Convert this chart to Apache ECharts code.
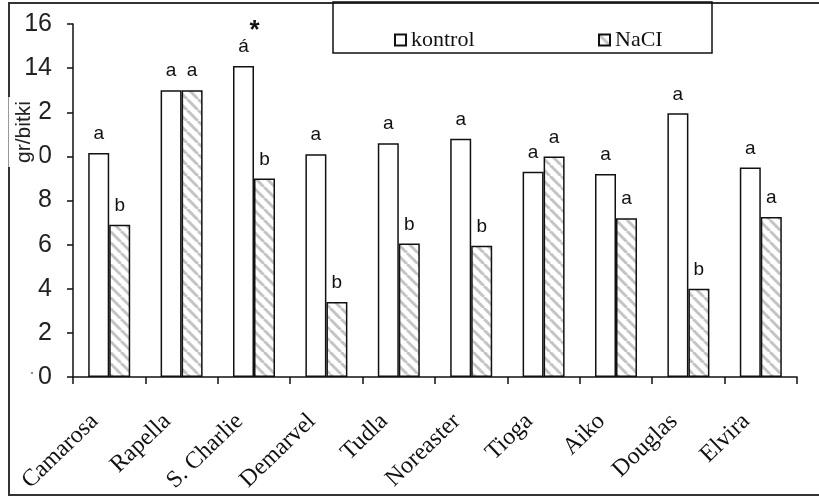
<!DOCTYPE html>
<html>
<head>
<meta charset="utf-8">
<script src="https://cdn.jsdelivr.net/npm/echarts@6/dist/echarts.min.js"></script>
<style>
  html, body { margin: 0; padding: 0; background: #fff; }
  #chart { width: 819px; height: 498px; }
</style>
</head>
<body>
<div id="chart"></div>
<script>
// Cultivars and fresh weight per plant (gr/bitki)
var categories = ['Camarosa', 'Rapella', 'S. Charlie', 'Demarvel', 'Tudla',
                  'Noreaster', 'Tioga', 'Aiko', 'Douglas', 'Elvira'];
var kontrolValues = [10.15, 13.0, 14.1, 10.1, 10.6, 10.8, 9.3, 9.2, 11.95, 9.5];
var naclValues = [6.9, 13.0, 9.0, 3.4, 6.05, 5.95, 10.0, 7.2, 4.0, 7.25];
// Significance letters shown above each bar
var kontrolLetters = ['a', 'a', 'á*', 'a', 'a', 'a', 'a', 'a', 'a', 'a'];
var naclLetters = ['b', 'a', 'b', 'b', 'b', 'b', 'a', 'a', 'b', 'a'];
var yTicks = [0, 2, 4, 6, 8, 10, 12, 14, 16];

// Diagonal hatch fill for the NaCl bars
function hatchPattern() {
  var s = 11;
  var c = document.createElement('canvas');
  c.width = s; c.height = s;
  var g = c.getContext('2d');
  g.fillStyle = '#ffffff';
  g.fillRect(0, 0, s, s);
  g.strokeStyle = '#c4c4c4';
  g.lineWidth = 3;
  [-s, 0, s].forEach(function (k) {
    g.beginPath();
    g.moveTo(k, 0);
    g.lineTo(k + s, s);
    g.stroke();
  });
  return c;
}

function letterLabel(letters) {
  return function (p) {
    var t = letters[p.dataIndex];
    if (t.indexOf('*') >= 0) {
      return '{s|*}\n{m|' + t.replace('*', '') + '}';
    }
    return '{m|' + t + '}';
  };
}

var labelRich = {
  m: { fontFamily: 'Liberation Sans', fontSize: 19, color: '#111', lineHeight: 20 },
  s: { fontFamily: 'Liberation Sans', fontSize: 26, fontWeight: 'bold', color: '#111', lineHeight: 12, padding: [0, 0, 0, 22] }
};

var legendText = { fontFamily: 'Liberation Serif', fontSize: 22, color: '#111', padding: [2, 0, 0, 0] };

var chart = echarts.init(document.getElementById('chart'), null, { renderer: 'canvas' });

chart.setOption({
  animation: false,
  backgroundColor: '#ffffff',
  grid: { left: 73, right: 22, top: 24, bottom: 121, containLabel: false, outerBoundsMode: 'none' },
  legend: [
    { data: ['kontrol'], left: 389, top: 24, icon: 'rect', itemWidth: 11, itemHeight: 11, textStyle: legendText },
    { data: ['NaCI'], left: 593, top: 24, icon: 'rect', itemWidth: 11, itemHeight: 11, textStyle: legendText }
  ],
  xAxis: {
    type: 'category',
    data: categories,
    boundaryGap: true,
    axisLine: { show: true, lineStyle: { color: '#111', width: 1.5 } },
    axisTick: { show: true, length: 7, alignWithLabel: false, lineStyle: { color: '#111', width: 1.5 } },
    axisLabel: {
      interval: 0, rotate: 44, margin: 27,
      fontFamily: 'Liberation Serif', fontSize: 24, color: '#111',
      padding: [0, 20, 0, 0]
    },
    splitLine: { show: false }
  },
  yAxis: {
    type: 'value',
    min: yTicks[0], max: yTicks[yTicks.length - 1], interval: 2,
    axisLine: { show: true, lineStyle: { color: '#111', width: 1.5 } },
    axisTick: { show: true, length: 6, inside: false, lineStyle: { color: '#111', width: 1.5 } },
    axisLabel: { margin: 21, fontFamily: 'Liberation Sans', fontSize: 25, color: '#222' },
    splitLine: { show: false }
  },
  series: [
    {
      name: 'kontrol',
      type: 'bar',
      data: kontrolValues,
      barWidth: 21,
      barGap: '0%',
      itemStyle: { color: '#ffffff', borderColor: '#111', borderWidth: 1.5 },
      label: {
        show: true, position: 'top', distance: 9,
        formatter: letterLabel(kontrolLetters), rich: labelRich
      }
    },
    {
      name: 'NaCI',
      type: 'bar',
      data: naclValues,
      barWidth: 21,
      barGap: '0%',
      itemStyle: {
        color: { image: hatchPattern(), repeat: 'repeat' },
        borderColor: '#111', borderWidth: 1.5
      },
      label: {
        show: true, position: 'top', distance: 9,
        formatter: letterLabel(naclLetters), rich: labelRich
      }
    }
  ],
  graphic: [
    // outer frame
    {
      type: 'rect', z: 50, silent: true,
      shape: { x: 9, y: 3, width: 815, height: 492 },
      style: { fill: null, stroke: '#333', lineWidth: 2 }
    },
    // legend box
    {
      type: 'rect', z: 50, silent: true,
      shape: { x: 333, y: 2, width: 379, height: 51 },
      style: { fill: null, stroke: '#111', lineWidth: 1.5 }
    },
    // y-axis title
    {
      type: 'text', z: 60, silent: true,
      x: 24, y: 132, rotation: Math.PI / 2,
      style: {
        text: 'gr/bitki',
        font: '21px "Liberation Sans"',
        fill: '#222',
        align: 'center',
        verticalAlign: 'middle',
        backgroundColor: '#ffffff',
        padding: [3, 4, 7, 4]
      }
    },
    {
      type: 'circle', z: 60, silent: true,
      shape: { cx: 32, cy: 373, r: 1 },
      style: { fill: '#666' }
    }
  ]
});
</script>
</body>
</html>
